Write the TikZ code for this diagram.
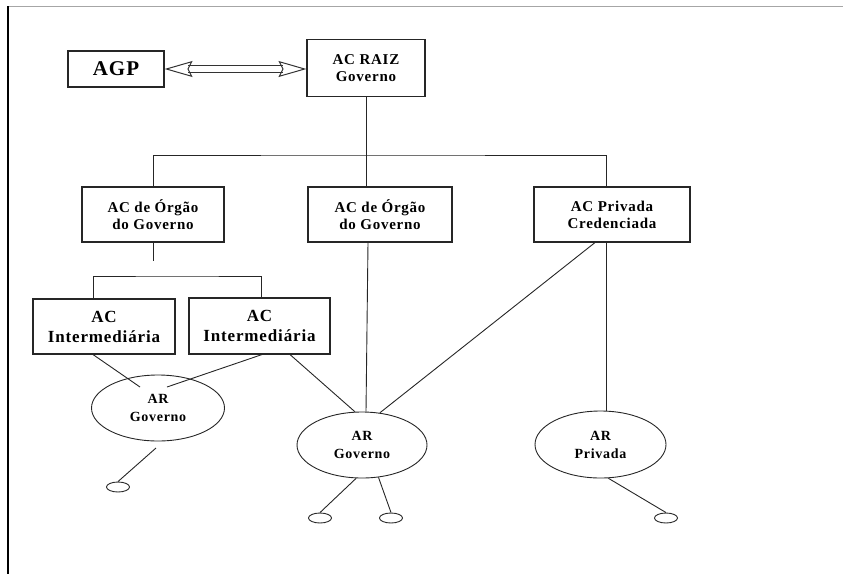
\documentclass[tikz,border=0pt]{standalone}
\usepackage{fontspec}
\setmainfont{Liberation Serif}
\usepackage{tikz}
\usetikzlibrary{shapes.geometric, arrows.meta, positioning, calc}
\tikzstyle{acbox} = [rectangle, draw=black!85, line width=1.1pt, align=center, inner sep=0pt, font=\bfseries\addfontfeatures{LetterSpace=5}\fontsize{15}{17}\selectfont]
\tikzstyle{arnode} = [ellipse, draw=black!85, line width=0.9pt, align=center, inner sep=0pt, font=\bfseries\addfontfeatures{LetterSpace=5}\fontsize{14}{18}\selectfont]
\tikzstyle{leaf} = [ellipse, draw=black!85, line width=0.9pt, minimum width=23pt, minimum height=10pt, inner sep=0pt]
\tikzstyle{link} = [line width=0.9pt, draw=black!85]
\tikzstyle{dblarrow} = [line width=1pt, draw=black!80, double=white, double distance=6pt, {Stealth[open,length=28pt,width=16pt,inset=4pt]}-{Stealth[open,length=28pt,width=16pt,inset=4pt]}]

\begin{document}
\begin{tikzpicture}[x=1pt, y=-1pt]
  \useasboundingbox (0,0) rectangle (843,574);
  % frame of the page
  \draw[black!35, line width=1pt] (8,6) -- (843,6);
  \draw[black, line width=1.4pt] (8,6) -- (8,574);

  \node[acbox, minimum width=96pt, minimum height=36pt, font=\bfseries\addfontfeatures{LetterSpace=5}\fontsize{21}{24}\selectfont] (agp) at (116,69) {AGP};
  \node[acbox, minimum width=118pt, minimum height=57pt] (raiz) at (366,68) {AC RAIZ\\Governo};

  \node[acbox, minimum width=142pt, minimum height=55pt] (org1) at (153,214.5) {AC de Órgão\\do Governo};
  \node[acbox, minimum width=144pt, minimum height=55pt] (org2) at (380,214.5) {AC de Órgão\\do Governo};
  \node[acbox, minimum width=156pt, minimum height=55pt] (priv) at (612,214.5) {AC Privada\\Credenciada};

  \node[acbox, minimum width=142pt, minimum height=55pt, font=\bfseries\addfontfeatures{LetterSpace=5}\fontsize{17}{20}\selectfont] (int1) at (104,326.5) {AC\\Intermediária};
  \node[acbox, minimum width=141pt, minimum height=56pt, font=\bfseries\addfontfeatures{LetterSpace=5}\fontsize{17}{20}\selectfont] (int2) at (259.5,326) {AC\\Intermediária};

  \node[arnode, minimum width=133pt, minimum height=66pt] (arg1) at (158,408) {AR\\Governo};
  \node[arnode, minimum width=130pt, minimum height=66pt] (arg2) at (362,445) {AR\\Governo};
  \node[arnode, minimum width=131pt, minimum height=67pt] (arpriv) at (600.5,444.5) {AR\\Privada};

  \node[leaf] (l1) at (118,487) {};
  \node[leaf] (l2) at (320,518) {};
  \node[leaf] (l3) at (391,518) {};
  \node[leaf] (l4) at (666,518) {};

  \coordinate (hub) at (366,155);
  \coordinate (stub) at (153,261);
  \coordinate (split) at (177,276);
  \coordinate (in1) at (140,387);
  \coordinate (in2) at (167,387);
  \coordinate (out1) at (156,448);

  \draw[dblarrow] (agp.east) -- (agp.east -| raiz.west);

  \draw[link] (raiz.south) -- (hub);
  \draw[link] (org1.north) |- (hub) -| ([xshift=-6pt]priv.north);
  \draw[link] (hub) -- (hub |- org2.north);
  \draw[link] (org1.south) -- (stub);
  \draw[link] ([xshift=-11pt]int1.north) |- (split) -| ([xshift=2pt]int2.north);

  \draw[link] ([xshift=-11pt]int1.south) -- (in1);
  \draw[link] ([xshift=2.5pt]int2.south) -- (in2);
  \draw[link] ([xshift=30.5pt]int2.south) -- (arg2.102);
  \draw[link] ([xshift=-12pt]org2.south) -- (arg2.north -| hub);
  \draw[link] ([xshift=-17pt]priv.south) -- (arg2.61);
  \draw[link] ([xshift=-6pt]priv.south) -- ([xshift=5.5pt]arpriv.north);

  \draw[link] (out1) -- (l1.north);
  \draw[link] (arg2.260) -- (l2.north);
  \draw[link] (arg2.297) -- (l3.north);
  \draw[link] (arpriv.283) -- (l4.north);
\end{tikzpicture}
\end{document}
